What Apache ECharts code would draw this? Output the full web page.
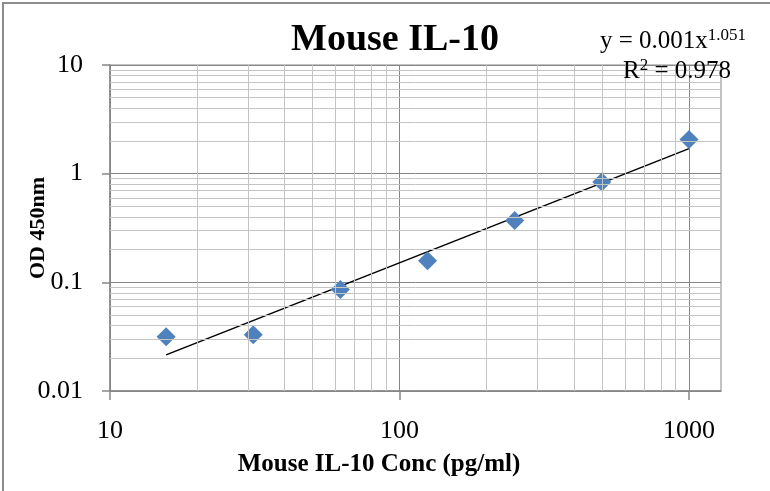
<!DOCTYPE html>
<html>
<head>
<meta charset="utf-8">
<script src="https://cdn.jsdelivr.net/npm/echarts@6/dist/echarts.min.js"></script>
<style>
  html, body { margin: 0; padding: 0; background: #fff; }
  #chart { width: 770px; height: 491px; }
</style>
</head>
<body>
<div id="chart"></div>
<script>
// standard concentrations (pg/ml) and measured OD 450nm
const conc = [15.625, 31.25, 62.5, 125, 250, 500, 1000];
const od = [0.0315, 0.033, 0.086, 0.158, 0.37, 0.84, 2.06];

// power trendline ends
const trendX = [15.625, 1000];
const trendY = [0.0215, 1.70];

const xTicks = [10, 100, 1000];
const xMinor = [20, 30, 40, 50, 60, 70, 80, 90, 200, 300, 400, 500, 600, 700, 800, 900];
const yMinor = [0.02, 0.03, 0.04, 0.05, 0.06, 0.07, 0.08, 0.09,
  0.2, 0.3, 0.4, 0.5, 0.6, 0.7, 0.8, 0.9,
  2, 3, 4, 5, 6, 7, 8, 9];

const serif = "'Liberation Serif', 'DejaVu Serif', serif";
const majorColor = "#868686";
const minorColor = "#c4c4c4";

const chart = echarts.init(document.getElementById("chart"));

const option = {
  animation: false,
  backgroundColor: "#fff",
  title: {
    text: "Mouse IL-10",
    left: 390,
    top: 16,
    textAlign: "center",
    textStyle: { fontFamily: serif, fontWeight: "bold", fontSize: 38, color: "#000" },
  },
  grid: {
    left: 110,
    right: 49,
    top: 65,
    bottom: 100,
    outerBoundsMode: "none",
    containLabel: false,
    show: true,
    borderColor: majorColor,
    borderWidth: 1,
  },
  xAxis: {
    type: "log",
    logBase: 10,
    min: 10,
    max: 1290,
    axisLine: { lineStyle: { color: majorColor, width: 1.5 } },
    axisTick: { show: true, length: 9, customValues: xTicks, lineStyle: { color: majorColor, width: 1.5 } },
    axisLabel: {
      customValues: xTicks,
      margin: 27,
      fontFamily: serif,
      fontSize: 26,
      color: "#000",
      formatter: (v) => String(v),
    },
    splitLine: { show: true, lineStyle: { color: majorColor, width: 1 } },
  },
  yAxis: {
    type: "log",
    logBase: 10,
    min: 0.01,
    max: 10,
    name: "OD 450nm",
    nameLocation: "middle",
    nameGap: 61,
    nameMoveOverlap: false,
    nameTextStyle: { fontFamily: serif, fontWeight: "bold", fontSize: 22, color: "#000" },
    axisLine: { show: true, lineStyle: { color: majorColor, width: 1.5 } },
    axisTick: { show: true, length: 8, lineStyle: { color: majorColor, width: 1.5 } },
    axisLabel: {
      margin: 27,
      fontFamily: serif,
      fontSize: 26,
      color: "#000",
      formatter: (v) => String(Number(v.toPrecision(3))),
    },
    splitLine: { show: true, lineStyle: { color: majorColor, width: 1 } },
  },
  graphic: [
    {
      type: "rect",
      shape: { x: 3, y: 3, width: 900, height: 700 },
      style: { fill: null, stroke: "#8c8c8c", lineWidth: 2 },
      silent: true,
    },
    {
      type: "text",
      x: 379,
      y: 452,
      style: {
        text: "Mouse IL-10 Conc (pg/ml)",
        textAlign: "center",
        fontFamily: serif,
        fontWeight: "bold",
        fontSize: 25,
        fill: "#000",
      },
    },
    {
      type: "text",
      left: 600,
      top: 27,
      z: 10,
      style: {
        text: "{b|y = 0.001x}{s|1.051}",
        rich: {
          b: { fontFamily: serif, fontSize: 25, color: "#000" },
          s: { fontFamily: serif, fontSize: 17, color: "#000", padding: [0, 0, 12, 0] },
        },
      },
    },
    {
      type: "text",
      left: 623,
      top: 57,
      z: 10,
      style: {
        text: "{b|R}{s|2}{b| = 0.978}",
        rich: {
          b: { fontFamily: serif, fontSize: 25, color: "#000" },
          s: { fontFamily: serif, fontSize: 17, color: "#000", padding: [0, 0, 12, 0] },
        },
      },
    },
  ],
  series: [
    {
      name: "grid",
      type: "line",
      data: [],
      silent: true,
      z: 1,
      markLine: {
        silent: true,
        symbol: "none",
        label: { show: false },
        lineStyle: { color: minorColor, width: 1, type: "solid" },
        data: xMinor.map((v) => ({ xAxis: v }))
          .concat(yMinor.map((v) => ({ yAxis: v }))),
      },
    },
    {
      name: "trend",
      type: "line",
      data: trendX.map((x, i) => [x, trendY[i]]),
      showSymbol: false,
      symbol: "none",
      z: 3,
      lineStyle: { color: "#000", width: 1.6 },
    },
    {
      name: "OD",
      type: "scatter",
      data: conc.map((x, i) => [x, od[i]]),
      symbol: "diamond",
      symbolSize: [19, 19],
      z: 4,
      itemStyle: { color: "#4f81bd", opacity: 1 },
    },
  ],
};

chart.setOption(option);
</script>
</body>
</html>
